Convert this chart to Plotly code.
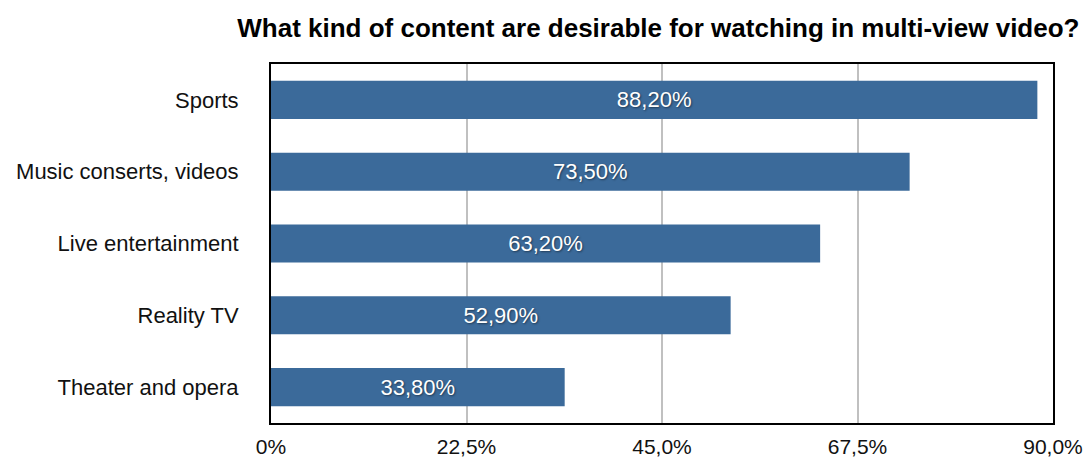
import plotly.graph_objects as go

categories = ["Sports", "Music conserts, videos", "Live entertainment", "Reality TV", "Theater and opera"]
values = [88.2, 73.5, 63.2, 52.9, 33.8]
value_labels = ["88,20%", "73,50%", "63,20%", "52,90%", "33,80%"]
tick_values = [0, 22.5, 45, 67.5, 90]
tick_labels = ["0%", "22,5%", "45,0%", "67,5%", "90,0%"]

font_family = "Liberation Sans, Arial, Helvetica, sans-serif"

fig = go.Figure(
    go.Bar(
        x=values,
        y=categories,
        orientation="h",
        marker=dict(color="#3b6a9a", line=dict(width=0)),
        text=value_labels,
        textposition="inside",
        insidetextanchor="middle",
        textfont=dict(color="white", size=22, family=font_family,
                      shadow="1px 1px 2px rgba(0,0,0,0.45)"),
        hoverinfo="skip",
    )
)

fig.update_layout(
    width=1090,
    height=461,
    margin=dict(l=271, r=37, t=64, b=38, autoexpand=False),
    paper_bgcolor="white",
    plot_bgcolor="white",
    bargap=0.47,
    showlegend=False,
    uniformtext=dict(minsize=22, mode="show"),
    title=dict(
        text="<b>What kind of content are desirable for watching in multi-view video?</b>",
        x=0.604,
        xanchor="center",
        y=0.94,
        yanchor="middle",
        font=dict(size=26, color="black", family=font_family),
    ),
    font=dict(family=font_family, color="#111"),
)

fig.update_xaxes(
    range=[0, 90],
    tickvals=tick_values,
    ticktext=tick_labels,
    tickfont=dict(size=21, color="#111"),
    showgrid=True,
    gridcolor="#c0c0c0",
    gridwidth=2,
    zeroline=False,
    showline=True,
    linecolor="black",
    linewidth=2,
    mirror=True,
    ticks="",
    ticklabelstandoff=4,
    automargin=False,
)

fig.update_yaxes(
    categoryorder="array",
    categoryarray=categories[::-1],
    tickfont=dict(size=22, color="#111"),
    showgrid=False,
    showline=True,
    linecolor="black",
    linewidth=2,
    mirror=True,
    ticks="",
    ticklabelstandoff=26,
    automargin=False,
)

fig.write_html("out.html")
